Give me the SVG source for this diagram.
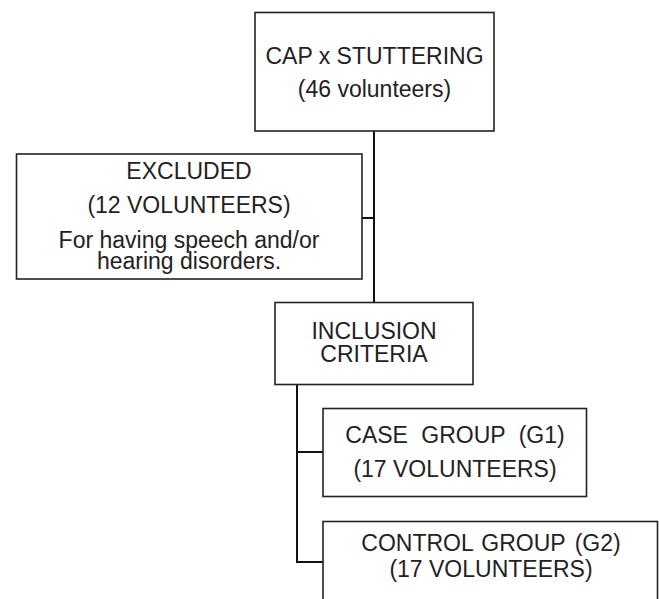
<svg xmlns="http://www.w3.org/2000/svg" width="659" height="599" viewBox="0 0 659 599">
<style>
.box{fill:#fff;stroke:#222;stroke-width:1.6}
.t{font-family:"Liberation Sans",Arial,sans-serif;font-size:23px;fill:#222;text-anchor:middle}
.c{stroke:#111;stroke-width:2;fill:none}
</style>
<rect width="659" height="599" fill="#fff"/>
<g id="connectors">
<path class="c" d="M374 131V302"/>
<path class="c" d="M362 218H374"/>
<path class="c" d="M297 384V562H323"/>
<path class="c" d="M297 452H323"/>
</g>
<g id="top">
<rect class="box" x="255" y="12.5" width="239" height="118.5"/>
<text class="t" x="374.5" y="63.5">CAP x STUTTERING</text>
<text class="t" x="374.5" y="97" font-size="22.5">(46 volunteers)</text>
</g>
<g id="excluded">
<rect class="box" x="16.5" y="154" width="345.5" height="125"/>
<text class="t" x="189" y="178.5" font-size="22.5">EXCLUDED</text>
<text class="t" x="189" y="213">(12 VOLUNTEERS)</text>
<text class="t" x="189" y="247.5" font-size="24">For having speech and/or</text>
<text class="t" x="189" y="269" font-size="24">hearing disorders.</text>
</g>
<g id="inclusion">
<rect class="box" x="275" y="302.5" width="198" height="82"/>
<text class="t" x="374" y="339" font-size="22">INCLUSION</text>
<text class="t" x="374" y="361.5" font-size="22">CRITERIA</text>
</g>
<g id="case">
<rect class="box" x="323" y="408.5" width="263.5" height="88"/>
<text class="t" x="455" y="443" word-spacing="7">CASE GROUP (G1)</text>
<text class="t" x="455" y="477">(17 VOLUNTEERS)</text>
</g>
<g id="control">
<rect class="box" x="323" y="521.5" width="334.5" height="90"/>
<text class="t" x="491" y="551" word-spacing="2">CONTROL GROUP<tspan dx="9">(G2)</tspan></text>
<text class="t" x="491" y="577">(17 VOLUNTEERS)</text>
</g>
</svg>
